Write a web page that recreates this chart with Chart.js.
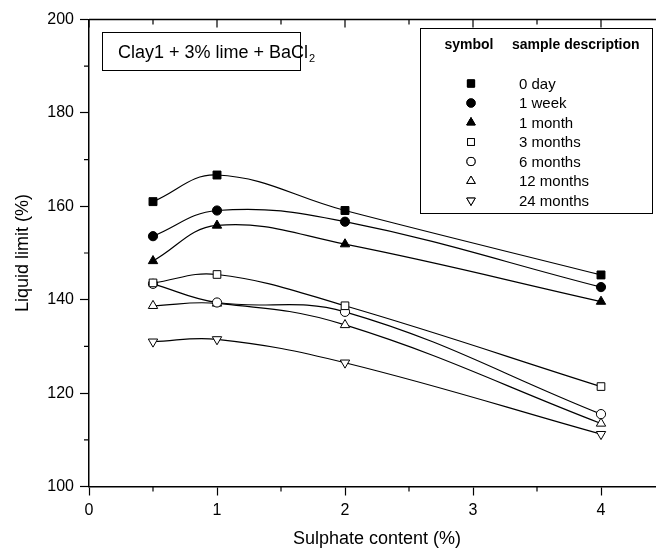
<!DOCTYPE html>
<html>
<head>
<meta charset="utf-8">
<script src="https://cdn.jsdelivr.net/npm/chart.js@4.4.0/dist/chart.umd.min.js"></script>
<style>
  html, body { margin: 0; padding: 0; background: #fff; overflow: hidden; width: 656px; height: 552px; }
  canvas { display: block; }
</style>
</head>
<body>
<canvas id="myChart" width="680" height="552"></canvas>
<script>
// Données
const sulphate = [0.5, 1, 2, 4];
const labels = ['0 day', '1 week', '1 month', '3 months', '6 months', '12 months', '24 months'];
const day0 = [161.0, 166.7, 159.1, 145.3];
const week1 = [153.6, 159.1, 156.7, 142.7];
const month1 = [148.3, 155.9, 151.9, 139.6];
const months3 = [143.6, 145.4, 138.7, 121.4];
const months6 = [143.4, 139.4, 137.4, 115.5];
const months12 = [138.7, 139.2, 134.6, 113.5];
const months24 = [131.0, 131.5, 126.5, 111.2];

const FONT = "'Liberation Sans', Arial, sans-serif";

// Symboles : style, remplissage, rotation, rayon
const markers = [
    { style: 'rect', fill: '#000', rot: 0, r: 5.6 },
    { style: 'circle', fill: '#000', rot: 0, r: 4.6 },
    { style: 'triangle', fill: '#000', rot: 0, r: 5.4 },
    { style: 'rect', fill: '#fff', rot: 0, r: 5.4 },
    { style: 'circle', fill: '#fff', rot: 0, r: 4.6 },
    { style: 'triangle', fill: '#fff', rot: 0, r: 5.4 },
    { style: 'triangle', fill: '#fff', rot: 180, r: 5.4 }
];

const allSeries = [day0, week1, month1, months3, months6, months12, months24];

const datasets = allSeries.map((vals, i) => ({
    label: labels[i],
    data: vals.map((v, j) => ({ x: sulphate[j], y: v })),
    borderColor: '#000',
    borderWidth: 1.2,
    tension: 0.4,
    pointStyle: markers[i].style,
    pointRotation: markers[i].rot,
    pointRadius: markers[i].r,
    pointHoverRadius: markers[i].r,
    pointBackgroundColor: markers[i].fill,
    pointBorderColor: '#000',
    pointBorderWidth: 1
}));

// Cadre, petites graduations, encadré du titre et légende
const extras = {
    id: 'extras',
    afterDatasetsDraw(chart) {
        const ctx = chart.ctx;
        const { left, right, top, bottom } = chart.chartArea;
        const xs = chart.scales.x;
        const ys = chart.scales.y;
        ctx.save();
        ctx.strokeStyle = '#000';
        ctx.lineWidth = 1.5;
        ctx.beginPath();
        ctx.moveTo(left, top); ctx.lineTo(right, top); ctx.lineTo(right, bottom);
        ctx.stroke();

        ctx.lineWidth = 1.2;
        ctx.beginPath();
        for (let v = 0; v <= 4.5; v += 0.5) {
            const px = xs.getPixelForValue(v);
            const major = Number.isInteger(v);
            if (!major) { ctx.moveTo(px, bottom); ctx.lineTo(px, bottom + 5); }
            ctx.moveTo(px, top); ctx.lineTo(px, top + (major ? 8 : 5));
        }
        for (let v = 100; v <= 200; v += 10) {
            const py = ys.getPixelForValue(v);
            const major = v % 20 === 0;
            if (!major) { ctx.moveTo(left, py); ctx.lineTo(left - 5, py); }
            ctx.moveTo(right, py); ctx.lineTo(right - (major ? 9 : 5), py);
        }
        ctx.stroke();

        // Encadré « Clay1 + 3% lime + BaCl2 »
        ctx.fillStyle = '#fff';
        ctx.fillRect(102, 32, 198, 38);
        ctx.lineWidth = 1;
        ctx.strokeRect(102.5, 32.5, 198, 38);
        ctx.fillStyle = '#000';
        ctx.textBaseline = 'alphabetic';
        ctx.textAlign = 'left';
        ctx.font = '18px ' + FONT;
        const main = 'Clay1 + 3% lime + BaCl';
        ctx.fillText(main, 118, 58);
        const w = ctx.measureText(main).width;
        ctx.font = '11px ' + FONT;
        ctx.fillText('2', 118 + w + 1, 62);

        // Légende
        ctx.fillStyle = '#fff';
        ctx.fillRect(420, 28, 232, 185);
        ctx.strokeRect(420.5, 28.5, 232, 185);
        ctx.fillStyle = '#000';
        ctx.font = 'bold 14px ' + FONT;
        ctx.textBaseline = 'middle';
        ctx.textAlign = 'center';
        ctx.fillText('symbol', 469, 45);
        ctx.textAlign = 'left';
        ctx.fillText('sample description', 512, 45);
        ctx.font = '15px ' + FONT;
        labels.forEach((lab, i) => {
            const y = 83.5 + i * 19.5;
            Chart.helpers.drawPoint(ctx, {
                pointStyle: markers[i].style,
                rotation: markers[i].rot,
                radius: markers[i].r - 0.5,
                borderWidth: 1
            }, 471, y);
            ctx.fillStyle = markers[i].fill;
            ctx.strokeStyle = '#000';
            ctx.fill();
            ctx.stroke();
            ctx.fillStyle = '#000';
            ctx.fillText(lab, 519, y + 1);
        });
        ctx.restore();
    }
};

const ctx = document.getElementById('myChart').getContext('2d');
new Chart(ctx, {
    type: 'line',
    data: { datasets: datasets },
    options: {
        responsive: false,
        animation: false,
        layout: { padding: { top: 19.5, right: 15, left: 0, bottom: 0 } },
        plugins: { legend: { display: false }, tooltip: { enabled: false } },
        scales: {
            x: {
                type: 'linear',
                min: 0,
                max: 4.5,
                afterFit(scale) { scale.height = 65.5; },
                ticks: {
                    stepSize: 0.5,
                    autoSkip: false,
                    maxRotation: 0,
                    padding: 5,
                    color: '#000',
                    font: { family: FONT, size: 16 },
                    callback: v => Number.isInteger(v) && v <= 4 ? String(v) : ''
                },
                grid: {
                    drawOnChartArea: false,
                    tickLength: 9,
                    tickWidth: 1.2,
                    tickColor: c => Number.isInteger(c.tick.value) ? '#000' : 'rgba(0,0,0,0)'
                },
                border: { display: true, color: '#000', width: 1.5 },
                title: {
                    display: true,
                    text: 'Sulphate content (%)',
                    color: '#000',
                    font: { family: FONT, size: 18 },
                    padding: { top: 0, bottom: 2 }
                }
            },
            y: {
                min: 100,
                max: 200,
                afterFit(scale) { scale.width = 89; },
                ticks: {
                    stepSize: 10,
                    autoSkip: false,
                    padding: 6,
                    color: '#000',
                    font: { family: FONT, size: 16 },
                    callback: v => v % 20 === 0 ? String(v) : ''
                },
                grid: {
                    drawOnChartArea: false,
                    tickLength: 9,
                    tickWidth: 1.2,
                    tickColor: c => c.tick.value % 20 === 0 ? '#000' : 'rgba(0,0,0,0)'
                },
                border: { display: true, color: '#000', width: 1.5 },
                title: {
                    display: true,
                    text: 'Liquid limit (%)',
                    color: '#000',
                    font: { family: FONT, size: 18 },
                    padding: { top: 12, bottom: 0 }
                }
            }
        }
    },
    plugins: [extras]
});
</script>
</body>
</html>
